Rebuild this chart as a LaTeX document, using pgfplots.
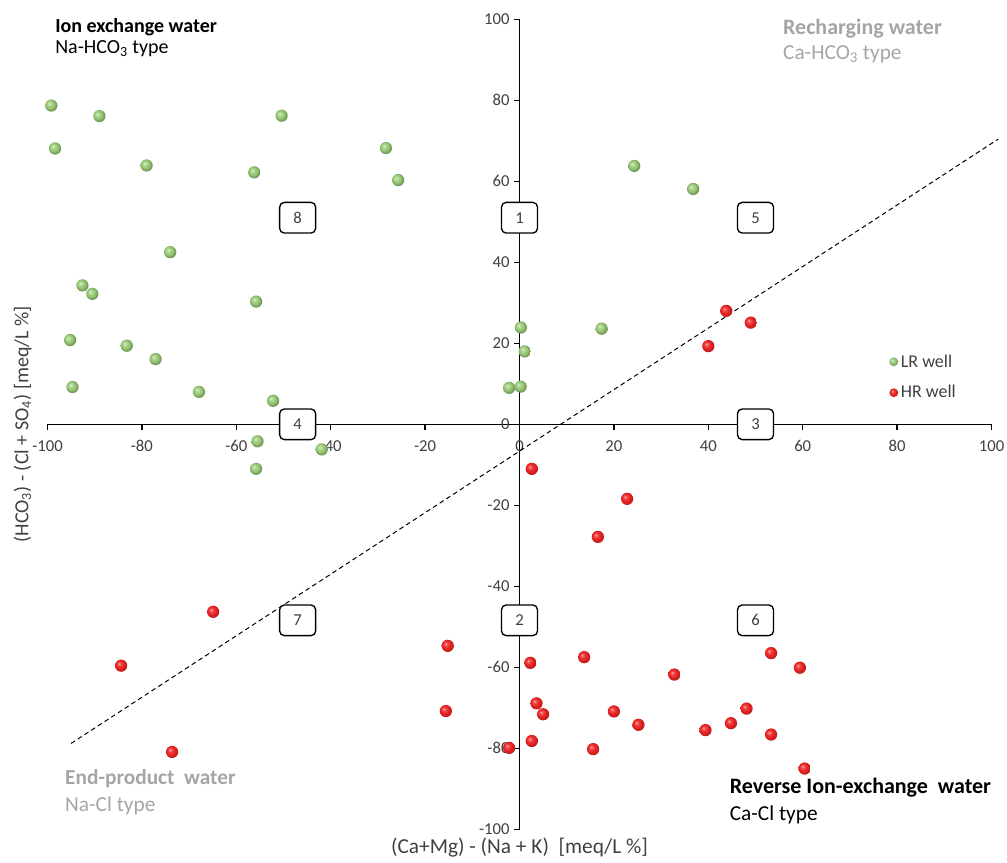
\documentclass[border=0pt]{standalone}
\usepackage{fontspec}
\setmainfont{Carlito}
\usepackage{pgfplots}
\pgfplotsset{compat=1.18}
\definecolor{tickgray}{RGB}{64,64,64}
\definecolor{annogray}{RGB}{165,165,165}
\definecolor{lrgreen}{RGB}{150,200,115}
\definecolor{hrred}{RGB}{235,35,35}
\pgfdeclareradialshading{greenballsh}{\pgfpoint{-9bp}{9bp}}{%
  color(0bp)=(lrgreen!30!white); color(8bp)=(lrgreen!80!white); color(16bp)=(lrgreen);
  color(24bp)=(lrgreen!80!black); color(50bp)=(lrgreen!45!black)}
\pgfdeclareradialshading{redballsh}{\pgfpoint{-9bp}{9bp}}{%
  color(0bp)=(hrred!40!white); color(8bp)=(hrred!85!white); color(16bp)=(hrred);
  color(24bp)=(hrred!85!black); color(50bp)=(hrred!50!black)}
\pgfdeclareplotmark{greenball}{\pgfpathcircle{\pgfpointorigin}{\pgfplotmarksize}\pgfshadepath{greenballsh}{0}\pgfusepath{}}
\pgfdeclareplotmark{redball}{\pgfpathcircle{\pgfpointorigin}{\pgfplotmarksize}\pgfshadepath{redballsh}{0}\pgfusepath{}}
\begin{document}
\begin{tikzpicture}
\begin{axis}[
  scale only axis, width=708pt, height=607.5pt,
  xmin=-100,xmax=100,ymin=-100,ymax=100,
  axis lines=middle,
  axis line style={-, line width=1pt, black},
  xtick={-100,-80,...,100}, ytick={-100,-80,...,100},
  hide obscured x ticks=false, hide obscured y ticks=false,
  tick align=outside,
  major tick length=4pt,
  tick style={black, line width=1pt},
  tick label style={font=\fontsize{12.5}{14}\selectfont, text=tickgray},
  x tick label style={yshift=-4.5pt},
  /pgf/number format/assume math mode=true,
  clip=false,
  xlabel={(Ca+Mg) - (Na + K)\ \ [meq/L \%]},
  ylabel={(HCO\textsubscript{3}) - (Cl + SO\textsubscript{4}) [meq/L \%]},
  every axis x label/.style={at={(rel axis cs:0.5,-0.0231)}, anchor=center, font=\fontsize{16}{18}\selectfont, text=tickgray},
  every axis y label/.style={at={(rel axis cs:-0.0263,0.5)}, rotate=90, anchor=center, font=\fontsize{15}{18}\selectfont, text=tickgray},
  legend style={at={(0.8873,0.593)}, anchor=north west, draw=none, fill=none, font=\fontsize{13.5}{16}\selectfont, text=tickgray, row sep=8.3pt},
  legend image post style={mark size=3.3pt},
  legend cell align=left,
]
\addplot[black, dash pattern=on 3.5pt off 2.5pt, line width=0.75pt, forget plot] coordinates {(-95,-78.8) (101.4,70.4)};

\addplot[only marks, mark=greenball, mark size=4.6pt] coordinates {
(-99.2,78.7) (-89.0,76.1) (-50.4,76.2) (-98.4,68.1) (-79.0,63.9) (-56.2,62.2)
(-28.3,68.2) (-25.7,60.3) (-74.0,42.5) (-92.6,34.3) (-90.5,32.2) (-55.8,30.3)
(-95.2,20.8) (-83.2,19.4) (-77.1,16.1) (-94.7,9.2) (-67.9,8.0) (-52.2,5.8)
(-55.5,-4.2) (-41.9,-6.2) (-55.8,-11.0) (24.3,63.8) (36.8,58.1) (0.3,23.9)
(1.1,18.0) (-2.2,9.0) (0.25,9.3) (17.4,23.6)
};
\addlegendentry{LR well}
\addplot[only marks, mark=redball, mark size=4.6pt] coordinates {
(43.8,28.0) (49.0,25.1) (40.0,19.3) (2.6,-11.0) (22.8,-18.4) (16.6,-27.8)
(-64.9,-46.3) (-84.4,-59.6) (-73.6,-80.9) (-15.2,-54.7) (-15.6,-70.8) (2.3,-58.9)
(13.7,-57.5) (3.6,-68.9) (5.0,-71.6) (20.0,-70.9) (25.2,-74.2) (2.6,-78.2)
(-2.2,-79.9) (15.6,-80.2) (32.8,-61.8) (53.3,-56.5) (59.4,-60.1) (48.1,-70.2)
(44.8,-73.8) (39.4,-75.5) (53.3,-76.6) (60.4,-85.0)
};
\addlegendentry{HR well}

\node[anchor=west, inner sep=0pt, font=\fontsize{15}{18}\selectfont\bfseries] at (axis cs:-98.4,98.1) {Ion exchange water};
\node[anchor=west, inner sep=0pt, font=\fontsize{15}{18}\selectfont] at (axis cs:-98.4,92.7) {Na-HCO\textsubscript{3} type};
\node[anchor=west, inner sep=0pt, font=\fontsize{16.5}{18}\selectfont\bfseries, text=annogray] at (axis cs:55.8,97.6) {Recharging water};
\node[anchor=west, inner sep=0pt, font=\fontsize{16}{18}\selectfont, text=annogray] at (axis cs:55.8,91.4) {Ca-HCO\textsubscript{3} type};
\node[anchor=west, inner sep=0pt, font=\fontsize{16}{18}\selectfont\bfseries, text=annogray] at (axis cs:-96.3,-87.6) {End-product\ \ water};
\node[anchor=west, inner sep=0pt, font=\fontsize{16}{18}\selectfont, text=annogray] at (axis cs:-96.3,-94.1) {Na-Cl type};
\node[anchor=west, inner sep=0pt, font=\fontsize{16.5}{18}\selectfont\bfseries] at (axis cs:44.5,-89.8) {Reverse Ion-exchange\ \ water};
\node[anchor=west, inner sep=0pt, font=\fontsize{16}{18}\selectfont] at (axis cs:44.5,-96.3) {Ca-Cl type};

\coordinate (b1) at (axis cs:0,51);
\coordinate (b2) at (axis cs:0,-48.4);
\coordinate (b3) at (axis cs:50,0);
\coordinate (b4) at (axis cs:-47,0);
\coordinate (b5) at (axis cs:50,51);
\coordinate (b6) at (axis cs:50,-48.4);
\coordinate (b7) at (axis cs:-47,-48.4);
\coordinate (b8) at (axis cs:-47,51);
\coordinate (bbsw) at (rel axis cs:-0.0503,-0.0404);
\coordinate (bbne) at (rel axis cs:1.0164,1.0238);
\end{axis}
\foreach \i in {1,...,8} {
  \node[draw=black, line width=1pt, rounded corners=3.5pt, fill=white, minimum width=27pt, minimum height=23pt, inner sep=0pt, font=\fontsize{12.5}{14}\selectfont, text=tickgray] at (b\i) {\i};
}
\pgfresetboundingbox
\path[use as bounding box] (bbsw) rectangle (bbne);
\end{tikzpicture}
\end{document}
